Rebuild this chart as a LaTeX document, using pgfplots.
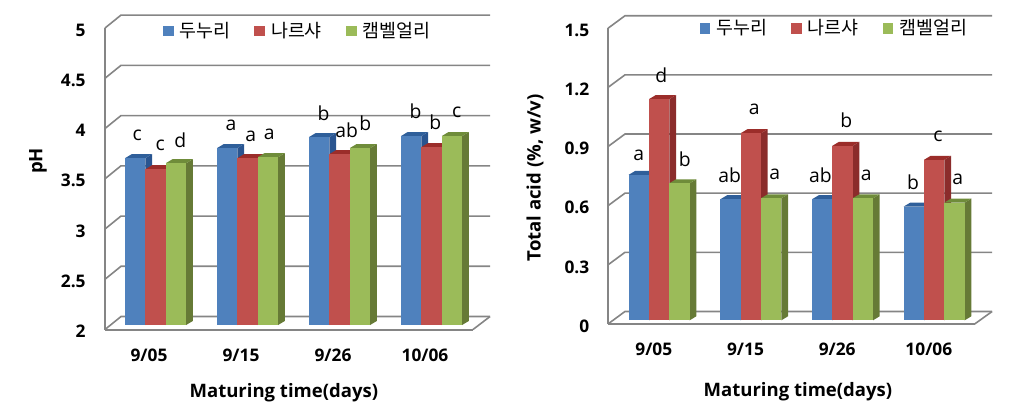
\documentclass[border=0pt]{standalone}
\usepackage{pgfplots}
\pgfplotsset{compat=1.18}
\usepackage{fontspec}
\setmainfont{Open Sans}
\newfontfamily\kr{Noto Sans CJK KR}
\newfontfamily\lb{Open Sans}
\definecolor{bF}{HTML}{4F81BD}\definecolor{bT}{HTML}{2F5F9A}\definecolor{bS}{HTML}{2A5590}
\definecolor{rF}{HTML}{C0504D}\definecolor{rT}{HTML}{9B2D2A}\definecolor{rS}{HTML}{8B2C2B}
\definecolor{gF}{HTML}{9BBB59}\definecolor{gT}{HTML}{6F8C3A}\definecolor{gS}{HTML}{667A36}
\definecolor{wall}{HTML}{858585}
% one bar: #1 left x (data), #2 value, #3 front #4 top #5 side
\newcommand{\threed}[5]{%
  \pgfmathsetmacro{\xa}{#1}\pgfmathsetmacro{\xb}{#1+\bw}\pgfmathsetmacro{\xc}{#1+\bw+\ddx}\pgfmathsetmacro{\xd}{#1+\ddx}
  \pgfmathsetmacro{\ya}{#2+\yo}\pgfmathsetmacro{\yb}{#2+\yo+\ddy}\pgfmathsetmacro{\yc}{\bs+\yo}\pgfmathsetmacro{\yd}{\bs+\yo+\ddy}
  \edef\doit{%
  \noexpand\addplot[forget plot,draw=none,fill=#5] coordinates {(\xb,\yc)(\xc,\yd)(\xc,\yb)(\xb,\ya)} --cycle;
  \noexpand\addplot[forget plot,draw=none,fill=#4] coordinates {(\xa,\ya)(\xb,\ya)(\xc,\yb)(\xd,\yb)} --cycle;
  \noexpand\addplot[forget plot,draw=none,fill=#3] coordinates {(\xa,\yc)(\xb,\yc)(\xb,\ya)(\xa,\ya)} --cycle;}\doit}
\newcommand{\group}[4]{% centre, blue, red, green
  \threed{#1+\off}{#2}{bF}{bT}{bS}
  \threed{#1+\off+\bw}{#3}{rF}{rT}{rS}
  \threed{#1+\off+2*\bw}{#4}{gF}{gT}{gS}}
\newcommand{\wline}[1]{%
  \pgfmathsetmacro{\ya}{#1+\wy}
  \edef\doit{\noexpand\addplot[forget plot,wall,line width=1.2pt] coordinates {(-0.5,#1)(-0.5+\wx,\ya)(\we,\ya)};}\doit}
\pgfplotsset{
  chart/.style={
    scale only axis, clip=false, xmin=-0.5, xmax=3.5,
    axis x line*=bottom, axis y line*=left,
    axis line style={wall,line width=1.5pt,-},
    major tick length=0pt, tick style={draw=none},
    xtick={0,1,2,3}, xticklabels={9/05,9/15,9/26,10/06},
    tick label style={font=\fontsize{13pt}{15pt}\selectfont\bfseries},
    label style={font=\fontsize{13.9pt}{16pt}\selectfont\bfseries},
    legend columns=3,
    legend style={draw=none,fill=none,inner sep=0pt,outer sep=0pt,font=\kr\fontsize{13.8pt}{15pt}\selectfont,
      /tikz/every even column/.append style={column sep=16pt}},
    legend image code/.code={\fill[draw=none,##1] (0pt,-4pt) rectangle (8pt,4pt);},
  }}
\begin{document}
\begin{tikzpicture}
\path[use as bounding box] (0pt,0pt) rectangle (760.5pt,311.25pt);
\begin{axis}[chart, at={(78.75pt,64.125pt)}, anchor=south west, width=276pt, height=226.1pt,
  ymin=2, ymax=5, ytick={2,2.5,3,3.5,4,4.5,5}, yticklabels={2,2.5,3,3.5,4,4.5,5},
  xticklabel style={anchor=center,yshift=-19pt,xshift=-1.5pt},
  yticklabel style={anchor=east,xshift=-11pt,yshift=-1.5pt},
  xlabel={Maturing time(days)}, ylabel={pH},
  xlabel style={at={(axis description cs:0.486,-0.21)},anchor=center},
  ylabel style={at={(axis description cs:-0.182,0.559)},anchor=center},
  legend style={at={(axis description cs:0.1576,0.99)},anchor=west}]
\def\wx{0.174}\def\wy{0.129}\def\we{3.685}
\def\bw{0.2217}\def\ddx{0.0725}\def\ddy{0.04}\def\bs{2}\def\yo{0.0448}\def\off{-0.283}
\wline{2}\wline{2.5}\wline{3}\wline{3.5}\wline{4}\wline{4.5}\wline{5}
\addplot[forget plot,wall,line width=1.2pt] coordinates {(3.5,2)(3.685,2.129)};
\group{0}{3.66}{3.55}{3.61}
\group{1}{3.76}{3.66}{3.67}
\group{2}{3.87}{3.70}{3.76}
\group{3}{3.88}{3.77}{3.88}
\addlegendimage{fill=bF}\addlegendentry{\hspace{2.5pt}두누리}
\addlegendimage{fill=rF}\addlegendentry{\hspace{2.5pt}나르샤}
\addlegendimage{fill=gF}\addlegendentry{\hspace{2.5pt}캠벨얼리}
\end{axis}
\begin{axis}[chart, at={(456pt,68.25pt)}, anchor=south west, width=275pt, height=221.8pt,
  ymin=0, ymax=1.5, ytick={0,0.3,0.6,0.9,1.2,1.5}, yticklabels={0,0.3,0.6,0.9,1.2,1.5},
  xticklabel style={anchor=center,yshift=-19pt},
  yticklabel style={anchor=east,xshift=-10.5pt,yshift=-1.5pt},
  xlabel={Maturing time(days)}, ylabel={Total acid (\%, w/v)},
  xlabel style={at={(axis description cs:0.518,-0.23)},anchor=center},
  ylabel style={at={(axis description cs:-0.199,0.494)},anchor=center},
  legend style={at={(axis description cs:0.25,1.0)},anchor=west}]
\def\wx{0.185}\def\wy{0.0635}\def\we{3.69}
\def\bw{0.2217}\def\ddx{0.0725}\def\ddy{0.0203}\def\bs{0}\def\yo{0.0188}\def\off{-0.274}
\wline{0}\wline{0.3}\wline{0.6}\wline{0.9}\wline{1.2}\wline{1.5}
\addplot[forget plot,wall,line width=1.2pt] coordinates {(3.5,0)(3.69,0.0635)};
\group{0}{0.738}{1.122}{0.695}
\group{1}{0.614}{0.949}{0.619}
\group{2}{0.614}{0.885}{0.619}
\group{3}{0.577}{0.814}{0.597}
\addlegendimage{fill=bF}\addlegendentry{\hspace{2.5pt}두누리}
\addlegendimage{fill=rF}\addlegendentry{\hspace{2.5pt}나르샤}
\addlegendimage{fill=gF}\addlegendentry{\hspace{2.5pt}캠벨얼리}
\end{axis}
\begin{scope}[shift={(0pt,311.25pt)},x=0.25pt,y=-0.25pt,every node/.style={inner sep=0pt,font=\lb\fontsize{14.5pt}{16pt}\selectfont}]
\foreach \x/\y/\t in {412/405/c,481/437/c,541/420/d,693/375/a,752/408/a,808/403/a,971/340/b,1040/392/ab,1096/370/b,1247/335/b,1306/368/b,1370/338/c,
 1916/465/a,1984/225/d,2054/478/b,2189/525/ab,2263/327/a,2324/522/a,2461/525/ab,2539/362/b,2599/525/a,2739/547/b,2814/410/c,2873/537/a}
  \node at (\x,\y) {\t};
\end{scope}
\end{tikzpicture}
\end{document}
